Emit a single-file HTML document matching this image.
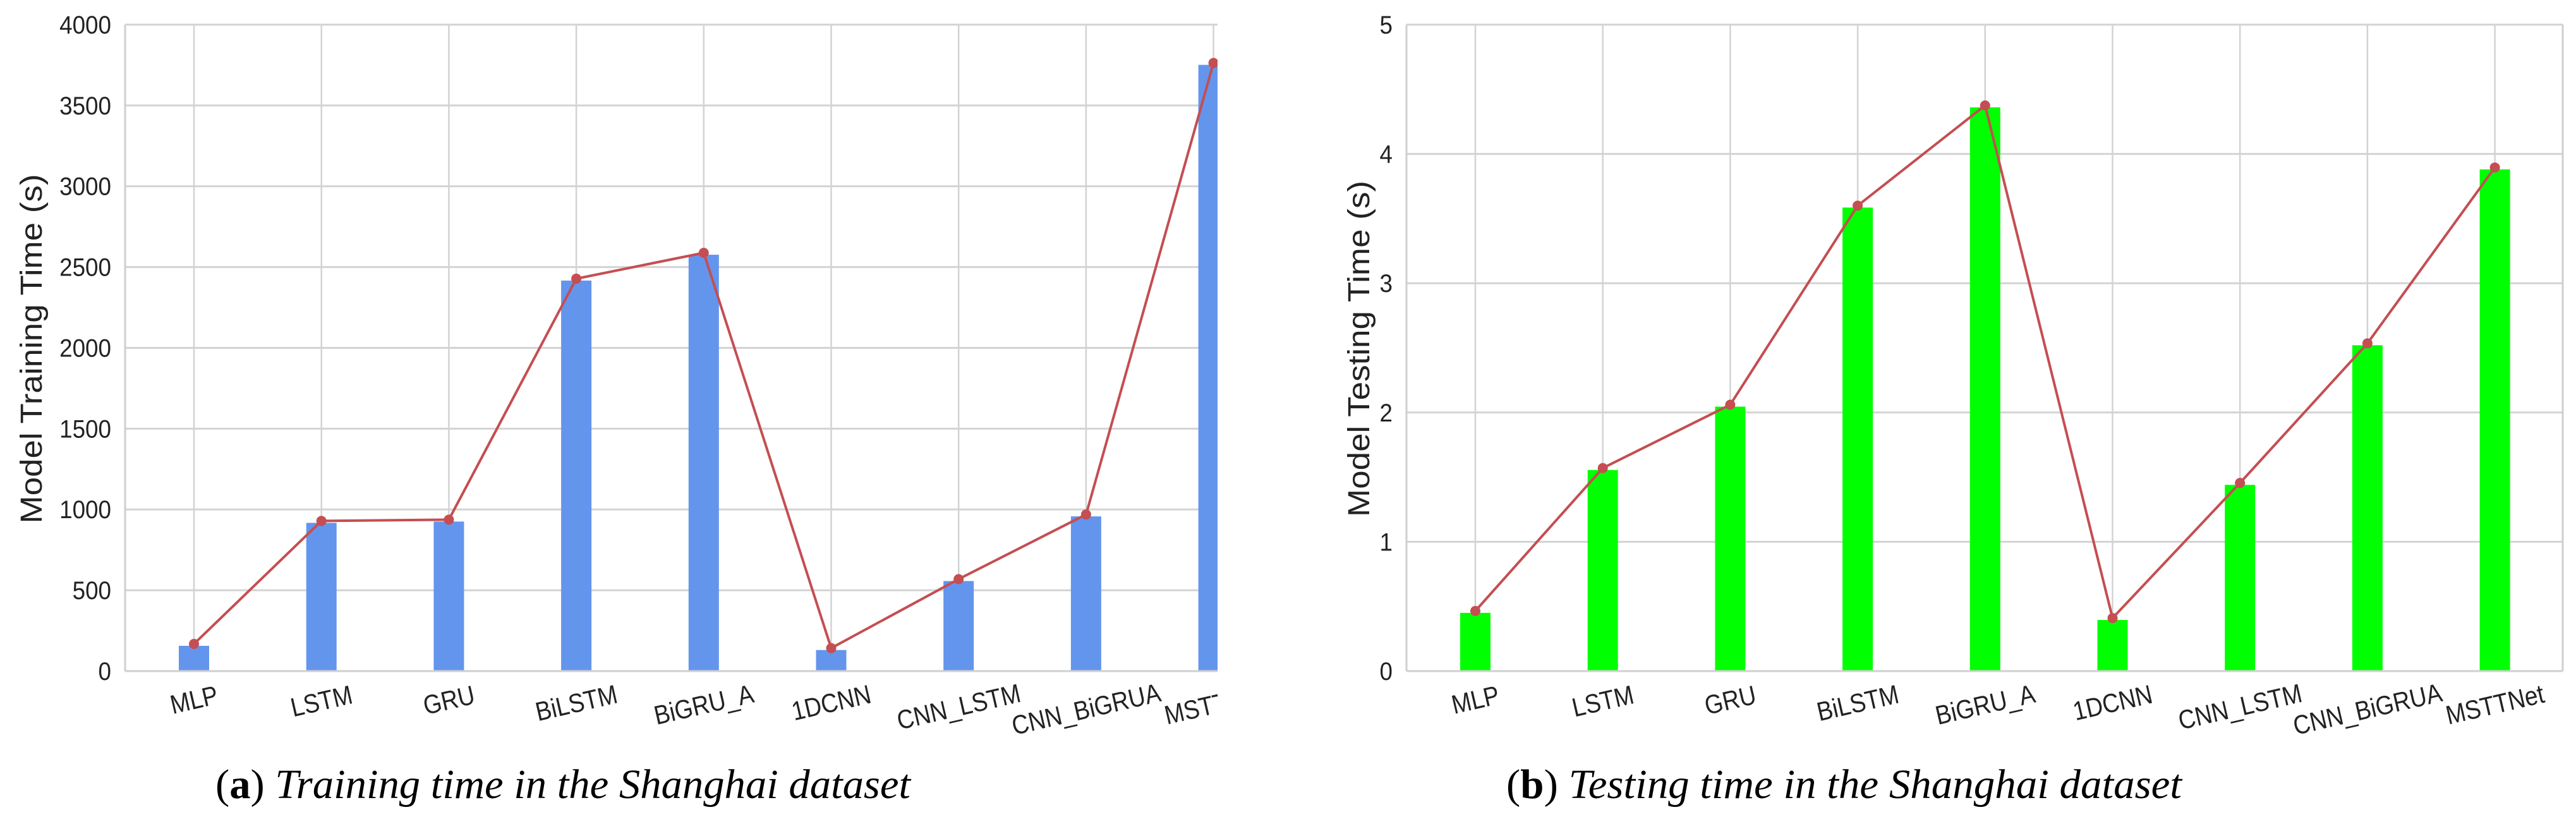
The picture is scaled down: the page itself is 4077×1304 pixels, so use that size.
<!DOCTYPE html>
<html><head><meta charset="utf-8"><style>
html,body{margin:0;padding:0;background:#fff;}
svg{display:block;}
</style></head><body>
<svg id="chart" width="4077" height="1304" viewBox="0 0 4077 1304" xmlns="http://www.w3.org/2000/svg"></svg>
<script>
const categories = ["MLP","LSTM","GRU","BiLSTM","BiGRU_A","1DCNN","CNN_LSTM","CNN_BiGRUA","MSTTNet"];
const trainValues = [168, 929, 937, 2428, 2588, 142, 569, 969, 3763];
const testValues = [0.465, 1.57, 2.06, 3.60, 4.375, 0.41, 1.455, 2.535, 3.895];
const trainTicks = [0,500,1000,1500,2000,2500,3000,3500,4000];
const testTicks = [0,1,2,3,4,5];

const NS = "http://www.w3.org/2000/svg";
const svg = document.getElementById('chart');
function mk(tag, attrs, parent){
  const e = document.createElementNS(NS, tag);
  for (const k in attrs) e.setAttribute(k, attrs[k]);
  (parent||svg).appendChild(e);
  return e;
}

function drawPanel(cfg){
  const g = mk('g', {});
  
  
  const top = 39, bottom = 1062;
  const yScale = v => bottom - (v - cfg.ymin) / (cfg.ymax - cfg.ymin) * (bottom - top);
  const band = 201.7;
  const xScale = i => cfg.left + 109 + i * band;
  const clipId = cfg.id + '-clip';
  const defs = mk('defs', {}, g);
  const cp = mk('clipPath', {id: clipId}, defs);
  mk('rect', {x: cfg.left - 60, y: 0, width: cfg.right - cfg.left + 60, height: 1200}, cp);
  const plot = mk('g', {'clip-path': 'url(#' + clipId + ')'}, g);
  
  
  cfg.ticks.forEach(t => {
    const y = yScale(t);
    const gl = mk('line', {x1: cfg.left, x2: cfg.right, y1: y, y2: y, stroke: '#d3d3d3', 'stroke-width': 3}, plot);
    
    
    const tl = mk('text', {x: cfg.left - 22, y: y + 14, 'text-anchor': 'end', 'font-family': 'Liberation Sans, sans-serif', 'font-size': 40, fill: '#222', transform: 'translate(' + (cfg.left - 22) + ' 0) scale(0.92 1) translate(' + (-(cfg.left - 22)) + ' 0)'}, g);
    tl.textContent = t;
    
    
  });
  categories.forEach((c, i) => {
    const x = xScale(i);
    const vl = mk('line', {x1: x, x2: x, y1: top, y2: bottom, stroke: '#d3d3d3', 'stroke-width': 2.5}, plot);
    
    
  });
  mk('line', {x1: cfg.left, x2: cfg.left, y1: top, y2: bottom, stroke: '#cfcfcf', 'stroke-width': 3}, g);
  mk('line', {x1: cfg.left, x2: cfg.right, y1: bottom, y2: bottom, stroke: '#cfcfcf', 'stroke-width': 3}, g);
  if (cfg.frameRight) mk('line', {x1: cfg.right, x2: cfg.right, y1: top, y2: bottom, stroke: '#cfcfcf', 'stroke-width': 3}, g);
  cfg.values.forEach((v, i) => {
    const x = xScale(i), y = yScale(v);
    const b = mk('rect', {x: x - 24, y: y + 3, width: 48, height: bottom - y - 3, fill: cfg.color}, plot);
    
    
  });
  const pts = cfg.values.map((v, i) => xScale(i) + ',' + yScale(v)).join(' ');
  const pl = mk('polyline', {points: pts, fill: 'none', stroke: '#c44e52', 'stroke-width': 4}, plot);
  
  
  cfg.values.forEach((v, i) => {
    const m = mk('circle', {cx: xScale(i), cy: yScale(v), r: 8, fill: '#c44e52'}, plot);
    
    
  });
  const ang = 13;
  categories.forEach((c, i) => {
    const x = xScale(i);
    const t = mk('text', {x: x, y: 0, 'text-anchor': 'middle', 'font-family': 'Liberation Sans, sans-serif', 'font-size': 42, fill: '#222'}, plot);
    t.textContent = c;
    
    
    const w = (t.getComputedTextLength ? t.getComputedTextLength() : c.length * 22) * 0.88;
    const yc = 1100 + (w / 2) * Math.sin(ang * Math.PI / 180) * 0.8;
    t.setAttribute('y', yc + 15);
    t.setAttribute('transform', 'rotate(' + (-ang) + ' ' + x + ' ' + yc + ') translate(' + x + ' 0) scale(0.88 1) translate(' + (-x) + ' 0)');
  });
  const cy = 552;
  const yt = mk('text', {x: cfg.titleX, y: cy, 'text-anchor': 'middle', 'font-family': 'Liberation Sans, sans-serif', 'font-size': 48, fill: '#222', transform: 'rotate(-90 ' + cfg.titleX + ' ' + cy + ')', textLength: cfg.titleLen, lengthAdjust: 'spacingAndGlyphs'}, g);
  yt.textContent = cfg.title;
  
  
  const cap = mk('text', {x: cfg.capX, y: 1263, 'font-family': 'Liberation Serif, serif', 'font-size': 66, fill: '#000', textLength: cfg.capLen, lengthAdjust: 'spacingAndGlyphs'}, g);
  
  
  const s1 = mk('tspan', {}, cap); s1.textContent = '(';
  const s2 = mk('tspan', {'font-weight': 'bold'}, cap); s2.textContent = cfg.letter;
  const s3 = mk('tspan', {}, cap); s3.textContent = ') ';
  const s4 = mk('tspan', {'font-style': 'italic'}, cap); s4.textContent = cfg.caption;
}

drawPanel({id: 'training', left: 198, right: 1927, frameRight: false, values: trainValues, ticks: trainTicks, ymin: 0, ymax: 4000, color: '#6495ed',
  title: 'Model Training Time (s)', titleX: 66, titleLen: 553, capX: 341, capLen: 1100, letter: 'a', caption: 'Training time in the Shanghai dataset'});
drawPanel({id: 'testing', left: 2226, right: 4056, frameRight: true, values: testValues, ticks: testTicks, ymin: 0, ymax: 5, color: '#00ff00',
  title: 'Model Testing Time (s)', titleX: 2167, titleLen: 532, capX: 2384, capLen: 1069, letter: 'b', caption: 'Testing time in the Shanghai dataset'});
</script>
</body></html>
